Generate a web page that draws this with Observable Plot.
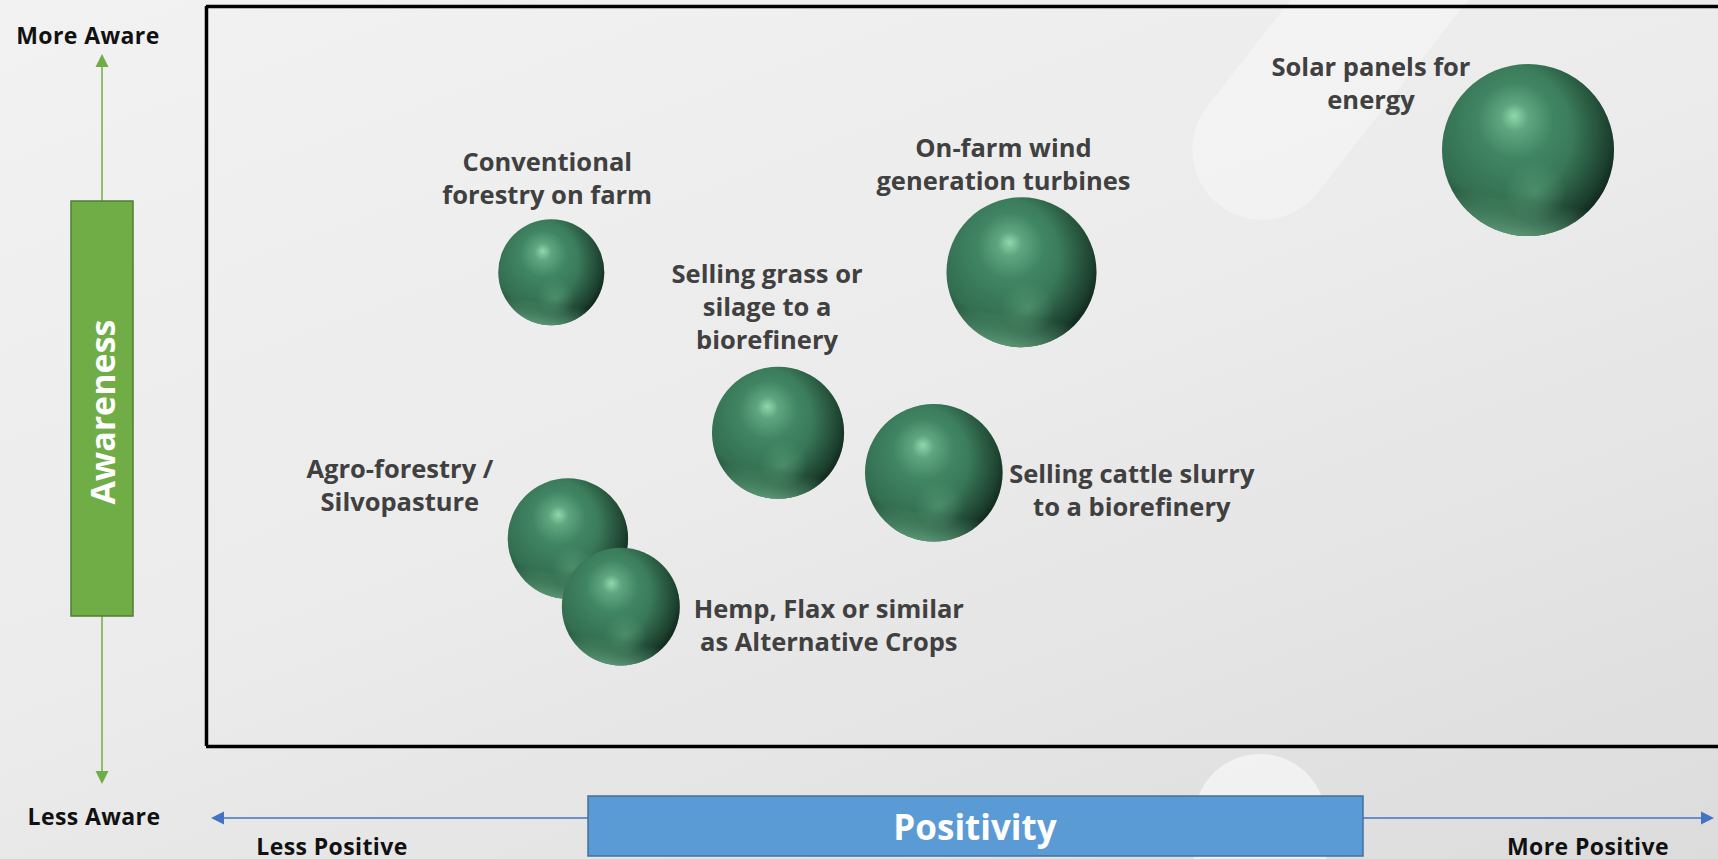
<!DOCTYPE html>
<html>
<head>
<meta charset="utf-8">
<script src="https://cdn.jsdelivr.net/npm/d3@7"></script>
<script src="https://cdn.jsdelivr.net/npm/@observablehq/plot@0.6"></script>
<style>
  html, body { margin: 0; padding: 0; }
  body {
    width: 1718px; height: 859px; overflow: hidden;
    background: linear-gradient(160deg, #f2f2f2 0%, #ebebeb 50%, #dcdcdc 100%);
    font-family: "Open Sans", Lato, sans-serif;
  }
  #chart { position: relative; width: 1718px; height: 859px; }
  #chart > svg { position: absolute; left: 0; top: 0; overflow: visible; }
  .deco { position: absolute; background: rgba(255,255,255,0.33); }
</style>
</head>
<body>
<div id="chart">
  <div class="deco" style="left:1303px;top:-242px;width:140px;height:500px;border-radius:70px;transform:rotate(38deg);"></div>
  <div class="deco" style="left:1194px;top:754px;width:132px;height:200px;border-radius:66px;background:rgba(255,255,255,0.55);"></div>
</div>
<script>
// ---- data ----
const options = [
  "Conventional forestry on farm",
  "Selling grass or silage to a biorefinery",
  "On-farm wind generation turbines",
  "Solar panels for energy",
  "Selling cattle slurry to a biorefinery",
  "Agro-forestry / Silvopasture",
  "Hemp, Flax or similar as Alternative Crops"
];
const labelLines = [
  "Conventional\nforestry on farm",
  "Selling grass or\nsilage to a\nbiorefinery",
  "On-farm wind\ngeneration turbines",
  "Solar panels for\nenergy",
  "Selling cattle slurry\nto a biorefinery",
  "Agro-forestry /\nSilvopasture",
  "Hemp, Flax or similar\nas Alternative Crops"
];
const positivity = [22.8, 37.8, 53.9, 87.4, 48.1, 23.9, 27.4];
const awareness  = [64.1, 42.4, 64.1, 80.6, 37.0, 28.1, 18.9];
const bubbleSize = [38, 59, 76, 100, 64, 49, 47];

const yAxisTop = "More Aware";
const yAxisBottom = "Less Aware";
const yAxisTitle = "Awareness";
const xAxisLeft = "Less Positive";
const xAxisRight = "More Positive";
const xAxisTitle = "Positivity";

// ---- chart ----
const data = options.map((name, i) => ({
  name, label: labelLines[i], positivity: positivity[i], awareness: awareness[i], size: bubbleSize[i]
}));

// label placement relative to bubble (layout only)
const labelOffsets = [[-4, -95], [-11, -127], [-18, -109], [-157, -68], [198, 16], [-168, -55], [208, 17]];

const W = 1718, H = 859;
const font = "'Open Sans', Lato, sans-serif";
const labelMarks = data.map((d, i) => Plot.text([d], {
  x: "positivity", y: "awareness", text: "label",
  dx: labelOffsets[i][0], dy: labelOffsets[i][1],
  fontSize: 25.5, fontWeight: 700, fill: "#404040",
  fontFamily: font,
  lineHeight: 1.3, textAnchor: "middle", lineAnchor: "middle"
}));

// each sphere is built from stacked shaded layers, kept together per item
const sphereLayers = ["url(#sphereBase)", "url(#sphereShade)", "url(#sphereLow)", "url(#sphereRim)"];
const sphereMarks = data.flatMap(d => sphereLayers.map(fill =>
  Plot.dot([d], {x: "positivity", y: "awareness", r: "size", fill, stroke: "none"})
));

const svg = Plot.plot({
  width: W, height: H,
  marginLeft: 206, marginTop: 6, marginRight: 0, marginBottom: 113,
  x: {domain: [0, 100], axis: null},
  y: {domain: [0, 100], axis: null},
  r: {type: "sqrt", domain: [0, 100], range: [0, 86]},
  style: {background: "transparent", overflow: "visible"},
  marks: [
    Plot.ruleX([0], {stroke: "#000", strokeWidth: 3.5}),
    Plot.ruleY([0, 100], {stroke: "#000", strokeWidth: 3.5}),
    ...sphereMarks,
    ...labelMarks
  ]
});

const root = d3.select(svg);
root.insert("defs", ":first-child").html(`
  <radialGradient id="sphereBase" cx="0.44" cy="0.38" r="0.62" fx="0.42" fy="0.3">
    <stop offset="0" stop-color="#8fd8ac"/>
    <stop offset="0.13" stop-color="#5fa680"/>
    <stop offset="0.36" stop-color="#408563"/>
    <stop offset="0.75" stop-color="#336f50"/>
    <stop offset="1" stop-color="#275a40"/>
  </radialGradient>
  <radialGradient id="sphereShade" cx="0.36" cy="0.4" r="0.72">
    <stop offset="0.55" stop-color="#000" stop-opacity="0"/>
    <stop offset="0.85" stop-color="#000" stop-opacity="0.35"/>
    <stop offset="1" stop-color="#000" stop-opacity="0.7"/>
  </radialGradient>
  <radialGradient id="sphereLow" cx="0.54" cy="0.74" r="0.18">
    <stop offset="0" stop-color="#7cc49c" stop-opacity="0.3"/>
    <stop offset="1" stop-color="#7cc49c" stop-opacity="0"/>
  </radialGradient>
  <linearGradient id="sphereRim" x1="0.25" y1="0" x2="0.1" y2="1">
    <stop offset="0.74" stop-color="#6fbf93" stop-opacity="0"/>
    <stop offset="1" stop-color="#7fcaa0" stop-opacity="0.8"/>
  </linearGradient>
`);

// ---- axis annotations (outside plot frame) ----
const g = root.append("g");
const green = "#70ad47", greenDark = "#507e32", blue = "#5b9bd5", blueDark = "#41719c", blueLine = "#4472c4";

// vertical awareness arrow
g.append("line").attr("x1", 102).attr("x2", 102).attr("y1", 201).attr("y2", 64).attr("stroke", green).attr("stroke-width", 1.5);
g.append("polygon").attr("points", "102,54 95.5,67 108.5,67").attr("fill", green);
g.append("line").attr("x1", 102).attr("x2", 102).attr("y1", 616).attr("y2", 774).attr("stroke", green).attr("stroke-width", 1.5);
g.append("polygon").attr("points", "102,784 95.5,771 108.5,771").attr("fill", green);
g.append("rect").attr("x", 71).attr("y", 201).attr("width", 62).attr("height", 415)
  .attr("fill", green).attr("stroke", greenDark).attr("stroke-width", 1.5);
g.append("text").attr("transform", "translate(102,412) rotate(-90)")
  .attr("text-anchor", "middle").attr("dominant-baseline", "central")
  .attr("fill", "#fff").attr("font-size", 34).attr("font-weight", 700).attr("font-family", font)
  .text(yAxisTitle);

// horizontal positivity arrow
g.append("line").attr("x1", 222).attr("x2", 1704).attr("y1", 818).attr("y2", 818).attr("stroke", blueLine).attr("stroke-width", 1.5);
g.append("polygon").attr("points", "211,818 224,811.5 224,824.5").attr("fill", blueLine);
g.append("polygon").attr("points", "1714,818 1701,811.5 1701,824.5").attr("fill", blueLine);
g.append("rect").attr("x", 588).attr("y", 796).attr("width", 775).attr("height", 60)
  .attr("fill", blue).attr("stroke", blueDark).attr("stroke-width", 1.5);
g.append("text").attr("x", 975).attr("y", 826)
  .attr("text-anchor", "middle").attr("dominant-baseline", "central")
  .attr("fill", "#fff").attr("font-size", 35).attr("font-weight", 700).attr("font-family", font)
  .text(xAxisTitle);

// end labels
const endLabels = [
  [yAxisTop, 88, 35], [yAxisBottom, 94, 816], [xAxisLeft, 332, 846], [xAxisRight, 1588, 846]
];
endLabels.forEach(([t, x, y]) => {
  g.append("text").attr("x", x).attr("y", y)
    .attr("text-anchor", "middle").attr("dominant-baseline", "central")
    .attr("fill", "#111").attr("font-size", 23).attr("font-weight", 700).attr("font-family", font)
    .attr("letter-spacing", 0.4)
    .text(t);
});

document.getElementById("chart").appendChild(svg);
</script>
</body>
</html>
